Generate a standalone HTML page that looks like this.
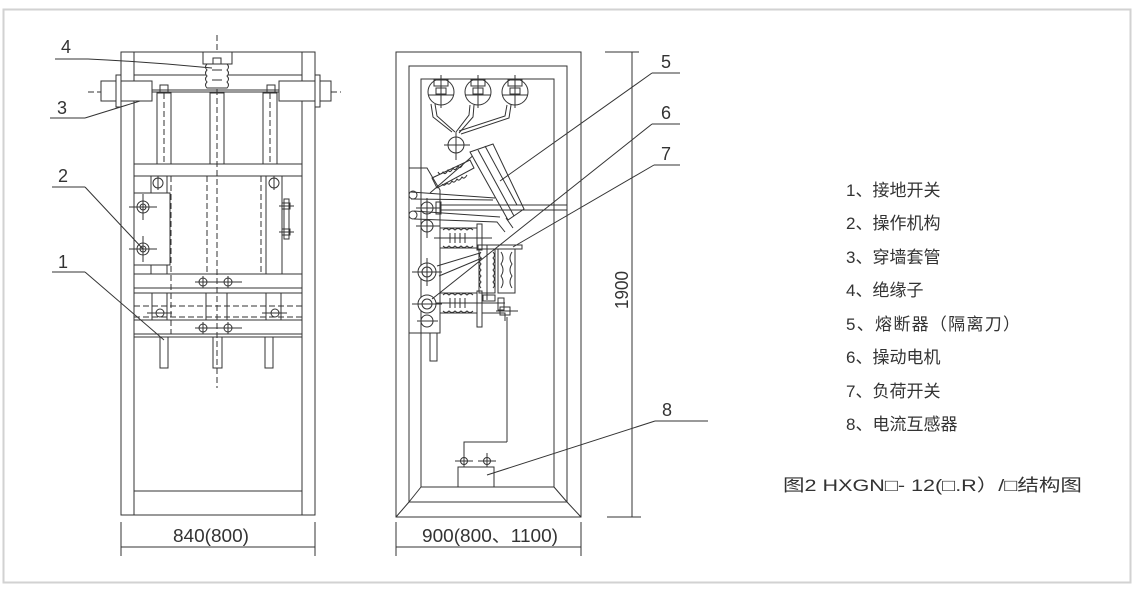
<!DOCTYPE html>
<html><head><meta charset="utf-8"><style>
html,body{margin:0;padding:0;background:#fff;}
svg{display:block}
text{font-family:"Liberation Sans","Noto Sans CJK SC",sans-serif;fill:#333;}
</style></head><body>
<svg width="1138" height="591" viewBox="0 0 1138 591" xmlns="http://www.w3.org/2000/svg">
<rect x="3.5" y="9.5" width="1127" height="573" fill="#fff" stroke="#d2d2d2" stroke-width="2"/>
<g stroke="#333" stroke-width="1" fill="none">
<!-- LEFT CABINET -->
<rect x="121" y="52" width="194" height="463"/>
<line x1="134" y1="52" x2="134" y2="515"/>
<line x1="302" y1="52" x2="302" y2="515"/>
<line x1="134" y1="75" x2="302" y2="75"/>
<line x1="134" y1="491" x2="302" y2="491"/>
<line x1="217" y1="35" x2="217" y2="388" stroke-dasharray="6,3"/>
<line x1="88" y1="92" x2="341" y2="92" stroke-dasharray="6,3"/>
<rect x="101" y="81" width="51" height="20" fill="#fff"/>
<rect x="116" y="75" width="5" height="32" fill="#fff"/>
<rect x="279" y="81" width="52" height="20" fill="#fff"/>
<rect x="315" y="75" width="5" height="32" fill="#fff"/>
<line x1="152" y1="92" x2="279" y2="92"/>
<line x1="152" y1="90" x2="279" y2="90"/>
<rect x="160" y="85" width="8" height="8"/><rect x="267" y="85" width="8" height="8"/>
<rect x="203" y="52" width="29" height="12" fill="#fff"/>
<rect x="213" y="58" width="8" height="6"/>
<path d="M207 64 q-3 3 0 6 q-3 3 0 6 q-3 3 0 6 q-3 3 0 6 L227 88 q3-3 0-6 q3-3 0-6 q3-3 0-6 q3-3 0-6 Z" fill="#fff"/>
<line x1="212" y1="70" x2="222" y2="70"/><line x1="212" y1="80" x2="222" y2="80"/>
<rect x="157" y="93" width="14" height="71"/><rect x="210" y="93" width="14" height="71"/><rect x="263" y="93" width="14" height="71"/>
<line x1="164" y1="93" x2="164" y2="164" stroke-dasharray="6,3"/><line x1="270" y1="93" x2="270" y2="164" stroke-dasharray="6,3"/>
<rect x="134" y="164" width="168" height="12"/>
<rect x="151" y="176" width="16" height="17"/><circle cx="158" cy="183" r="5"/><line x1="158" y1="176" x2="158" y2="190"/>
<rect x="266" y="176" width="16" height="98"/><circle cx="274" cy="183" r="5"/><line x1="274" y1="176" x2="274" y2="190"/>
<rect x="134" y="193" width="36" height="72" fill="#fff"/>
<rect x="151" y="265" width="16" height="9"/>
<circle cx="143" cy="207" r="6"/><circle cx="143" cy="207" r="3"/><line x1="129" y1="207" x2="157" y2="207"/><line x1="143" y1="194" x2="143" y2="220"/>
<circle cx="143" cy="249" r="6"/><circle cx="143" cy="249" r="3"/><line x1="129" y1="249" x2="157" y2="249"/><line x1="143" y1="236" x2="143" y2="262"/>
<rect x="284" y="199" width="5" height="40"/><line x1="279" y1="206" x2="294" y2="206"/><line x1="279" y1="232" x2="294" y2="232"/>
<rect x="282" y="203" width="8" height="6"/><rect x="282" y="229" width="8" height="6"/>
<line x1="171" y1="176" x2="171" y2="334" stroke-dasharray="6,3"/>
<line x1="207" y1="176" x2="207" y2="274" stroke-dasharray="6,3"/>
<line x1="261" y1="176" x2="261" y2="274" stroke-dasharray="6,3"/>
<rect x="134" y="274" width="168" height="14"/>
<circle cx="203" cy="282" r="4"/><circle cx="228" cy="282" r="4"/><line x1="195" y1="282" x2="242" y2="282"/><line x1="203" y1="276" x2="203" y2="288"/><line x1="228" y1="276" x2="228" y2="288"/>
<rect x="134" y="293" width="168" height="27"/>
<line x1="134" y1="306" x2="302" y2="306" stroke-dasharray="6,3"/><line x1="134" y1="317" x2="302" y2="317" stroke-dasharray="6,3"/>
<line x1="152" y1="293" x2="152" y2="320"/><line x1="167" y1="293" x2="167" y2="320"/><line x1="206" y1="293" x2="206" y2="320"/><line x1="227" y1="293" x2="227" y2="320"/><line x1="266" y1="293" x2="266" y2="320"/><line x1="281" y1="293" x2="281" y2="320"/>
<circle cx="160" cy="313" r="4"/><line x1="147" y1="313" x2="172" y2="313"/><circle cx="275" cy="313" r="4"/><line x1="262" y1="313" x2="287" y2="313"/>
<rect x="134" y="320" width="168" height="14"/><line x1="134" y1="337" x2="302" y2="337"/>
<circle cx="203" cy="328" r="4"/><circle cx="228" cy="328" r="4"/><line x1="195" y1="328" x2="242" y2="328"/><line x1="203" y1="322" x2="203" y2="334"/><line x1="228" y1="322" x2="228" y2="334"/>
<rect x="160" y="337" width="8" height="31"/><rect x="213" y="337" width="9" height="31"/><rect x="265" y="337" width="8" height="31"/>
<!-- left labels -->
<line x1="55" y1="59" x2="88" y2="59"/><path d="M88 59 Q150 62 212 68"/>
<line x1="50" y1="118" x2="85" y2="118"/><line x1="85" y1="118" x2="140" y2="101"/>
<line x1="52" y1="187" x2="85" y2="187"/><line x1="85" y1="187" x2="143" y2="249"/>
<line x1="52" y1="272" x2="85" y2="272"/><line x1="85" y1="272" x2="164" y2="340"/>
<!-- left dimension -->
<line x1="121" y1="522" x2="121" y2="556"/><line x1="315" y1="522" x2="315" y2="556"/><line x1="121" y1="547" x2="315" y2="547"/>

<!-- MIDDLE CABINET -->
<rect x="396" y="52" width="185" height="465"/>
<rect x="409" y="66" width="158" height="436"/>
<rect x="421" y="79" width="133" height="408"/>
<line x1="396" y1="517" x2="409" y2="502"/><line x1="581" y1="517" x2="567" y2="502"/>
<line x1="409" y1="502" x2="421" y2="487"/><line x1="567" y1="502" x2="554" y2="487"/>
<g>
<circle cx="441" cy="92" r="13" fill="#fff"/><rect x="434" y="80" width="14" height="6"/><rect x="436" y="88" width="10" height="6"/><line x1="441" y1="75" x2="441" y2="108"/><line x1="428" y1="95" x2="454" y2="95"/>
<circle cx="478" cy="92" r="13" fill="#fff"/><rect x="471" y="80" width="14" height="6"/><rect x="473" y="88" width="10" height="6"/><line x1="478" y1="75" x2="478" y2="108"/><line x1="465" y1="95" x2="491" y2="95"/>
<circle cx="515" cy="92" r="13" fill="#fff"/><rect x="508" y="80" width="14" height="6"/><rect x="510" y="88" width="10" height="6"/><line x1="515" y1="75" x2="515" y2="108"/><line x1="502" y1="95" x2="528" y2="95"/>
</g>
<path d="M431 104 L433 117 L452 132"/><path d="M435 104 L437 116 L455 132"/>
<path d="M470 105 L469 115 L456 132"/><path d="M474 105 L473 117 L459 133"/>
<path d="M507 105 L505 116 L459 131"/><path d="M511 105 L509 118 L461 134"/>
<line x1="421" y1="168" x2="421" y2="79"/>
<circle cx="456" cy="145" r="8"/><line x1="444" y1="145" x2="470" y2="145"/><line x1="456" y1="132" x2="456" y2="160"/>
<path d="M432 178 L470 160 L474 168 L437 188 Z" fill="#fff"/>
<path d="M438 172 q2 4 5 0 q2 4 5-2 q2 4 5-2 q2 4 5-2 q2 4 5-2 M442 184 q2 3 5-1 q2 3 5-2 q2 3 5-2 q2 3 5-2 q2 3 5-2"/>
<line x1="430" y1="193" x2="476" y2="153"/>
<polygon points="470,152 493,144 524,209 508,220" fill="#fff"/>
<line x1="478" y1="150" x2="514" y2="216"/>
<line x1="485" y1="146" x2="517" y2="205"/>
<line x1="506" y1="218" x2="513" y2="228"/>
<path d="M409 168 L427 168 L440 190 L440 333 L409 333"/>
<line x1="440" y1="205" x2="567" y2="205"/><line x1="440" y1="210" x2="567" y2="210"/>
<path d="M411 199 L493 200"/><path d="M411 192 L495 198"/>
<circle cx="413" cy="195" r="4"/>
<circle cx="427" cy="208" r="6"/><line x1="416" y1="208" x2="440" y2="208"/><line x1="427" y1="198" x2="427" y2="220"/>
<rect x="436" y="202" width="5" height="12"/>
<circle cx="413" cy="215" r="4"/><path d="M414 219 L497 222 L505 232"/><path d="M414 211 L500 217"/>
<circle cx="427" cy="226" r="6"/><line x1="416" y1="226" x2="440" y2="226"/><line x1="427" y1="216" x2="427" y2="238"/>
<rect x="440" y="228" width="37" height="20" fill="#fff"/>
<path d="M443 230 q3-3 6 0 q3-3 6 0 q3-3 6 0 q3-3 6 0 q3-3 6 0 M443 246 q3 3 6 0 q3 3 6 0 q3 3 6 0 q3 3 6 0 q3 3 6 0"/>
<line x1="434" y1="238" x2="492" y2="238"/>
<line x1="450" y1="233" x2="450" y2="243"/><line x1="455" y1="233" x2="455" y2="243"/><line x1="460" y1="233" x2="460" y2="243"/><line x1="465" y1="233" x2="465" y2="243"/>
<rect x="477" y="224" width="5" height="26"/>
<rect x="440" y="293" width="37" height="20" fill="#fff"/>
<path d="M443 295 q3-3 6 0 q3-3 6 0 q3-3 6 0 q3-3 6 0 q3-3 6 0 M443 311 q3 3 6 0 q3 3 6 0 q3 3 6 0 q3 3 6 0 q3 3 6 0"/>
<line x1="434" y1="303" x2="505" y2="303"/>
<line x1="450" y1="298" x2="450" y2="308"/><line x1="455" y1="298" x2="455" y2="308"/><line x1="460" y1="298" x2="460" y2="308"/><line x1="465" y1="298" x2="465" y2="308"/>
<rect x="477" y="291" width="5" height="36"/>
<circle cx="427" cy="272" r="9" fill="#fff"/><circle cx="427" cy="272" r="5"/><line x1="412" y1="272" x2="442" y2="272"/><line x1="427" y1="258" x2="427" y2="286"/>
<line x1="437" y1="266" x2="480" y2="253"/><line x1="439" y1="276" x2="482" y2="258"/>
<circle cx="427" cy="304" r="9" fill="#fff"/><circle cx="427" cy="304" r="5"/><line x1="412" y1="304" x2="442" y2="304"/>
<circle cx="427" cy="321" r="6" fill="#fff"/><line x1="417" y1="321" x2="438" y2="321"/>
<rect x="430" y="333" width="7" height="28"/>
<rect x="478" y="245" width="44" height="4"/>
<rect x="479" y="249" width="16" height="44"/>
<path d="M481 252 q-3 3 0 6 q-3 3 0 6 q-3 3 0 6 q-3 3 0 6 q-3 3 0 6 q-3 3 0 6 M493 252 q3 3 0 6 q3 3 0 6 q3 3 0 6 q3 3 0 6 q3 3 0 6 q3 3 0 6"/>
<line x1="487" y1="245" x2="487" y2="300"/>
<rect x="498" y="249" width="17" height="44"/>
<path d="M501 252 q4 6 0 12 q4 6 0 12 q4 6 0 12 M512 252 q-4 6 0 12 q-4 6 0 12 q-4 6 0 12"/>
<rect x="483" y="295" width="12" height="6"/>
<rect x="498" y="298" width="6" height="12"/>
<path d="M482 313 L505 313 L505 321"/><rect x="500" y="307" width="10" height="8"/><line x1="496" y1="311" x2="518" y2="311"/>
<line x1="507" y1="317" x2="507" y2="442"/>
<path d="M507 442 L464 442 L464 461"/>
<rect x="458" y="467" width="36" height="20" fill="#fff"/>
<circle cx="464" cy="461" r="3.5"/><line x1="455" y1="461" x2="473" y2="461"/><line x1="464" y1="454" x2="464" y2="467"/>
<circle cx="487" cy="461" r="3.5"/><line x1="478" y1="461" x2="496" y2="461"/><line x1="487" y1="453" x2="487" y2="467"/>
<line x1="396" y1="522" x2="396" y2="556"/><line x1="581" y1="522" x2="581" y2="556"/><line x1="396" y1="547" x2="581" y2="547"/>
<line x1="632" y1="52" x2="632" y2="517"/><line x1="605" y1="52" x2="639" y2="52"/><line x1="607" y1="517" x2="641" y2="517"/>
<line x1="652" y1="73" x2="680" y2="73"/><line x1="652" y1="73" x2="500" y2="181"/>
<line x1="652" y1="124" x2="680" y2="124"/><line x1="652" y1="124" x2="432" y2="299"/>
<line x1="654" y1="165" x2="680" y2="165"/><line x1="654" y1="165" x2="513" y2="247"/>
<line x1="655" y1="421" x2="708" y2="421"/><line x1="655" y1="421" x2="487" y2="475"/>
</g>
<g font-size="18">
<text x="61" y="53">4</text>
<text x="57" y="114">3</text>
<text x="58" y="182">2</text>
<text x="58" y="268">1</text>
<text x="661" y="68">5</text>
<text x="661" y="119">6</text>
<text x="661" y="160">7</text>
<text x="662" y="416">8</text>
<text x="173" y="542" textLength="76" lengthAdjust="spacingAndGlyphs">840(800)</text>
<text x="422" y="542" textLength="136" lengthAdjust="spacingAndGlyphs">900(800、1100)</text>
<text x="0" y="0" transform="translate(628,290) rotate(-90)" text-anchor="middle" textLength="38" lengthAdjust="spacingAndGlyphs">1900</text>
</g>
<g font-size="17">
<text x="846" y="196">1、接地开关</text>
<text x="846" y="229">2、操作机构</text>
<text x="846" y="263">3、穿墙套管</text>
<text x="846" y="296">4、绝缘子</text>
<text x="846" y="330" textLength="174" lengthAdjust="spacing">5、熔断器（隔离刀）</text>
<text x="846" y="363">6、操动电机</text>
<text x="846" y="397">7、负荷开关</text>
<text x="846" y="430">8、电流互感器</text>
<text x="783" y="491" textLength="299" lengthAdjust="spacingAndGlyphs">图2 HXGN□- 12(□.R）/□结构图</text>
</g>
</svg>
</body></html>
